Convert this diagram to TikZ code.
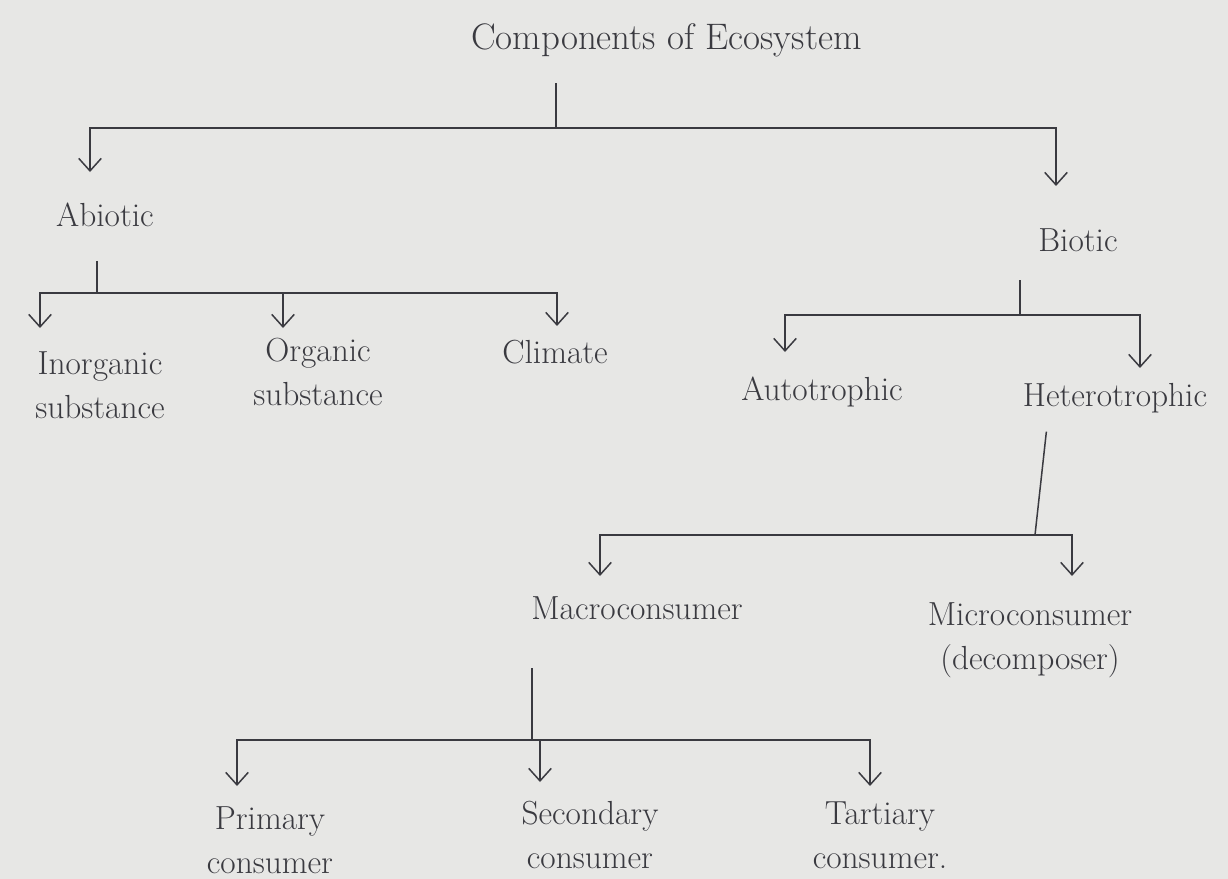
\documentclass[tikz,border=0pt]{standalone}
\usetikzlibrary{positioning, arrows.meta}
\definecolor{paper}{RGB}{231,231,229}
\definecolor{pencil}{RGB}{58,58,64}

\begin{document}
\begin{tikzpicture}[x=0.02cm, y=-0.02cm, >={Straight Barb[length=2.5mm, width=4.5mm]},
		word/.style={text=pencil, align=center, inner sep=2pt,
			font=\fontsize{19}{25}\selectfont},
		branch/.style={draw=pencil, line width=0.3mm}]

		\useasboundingbox [fill=paper] (0,0) rectangle (1228,879);

		% Ecosystem
		\node [word, font=\fontsize{21}{25}\selectfont] (eco) at (672,40) {
			Components of Ecosystem
		};
		\coordinate (eco-bar) at (556,128);
		\coordinate (abiotic-in) at (90,172);
		\coordinate (biotic-in) at (1056,186);

		% Abiotic
		\node [word] (abiotic) at (105,215) {Abiotic};
		\coordinate (abiotic-bar) at (97,293);
		\node [word] (inorg) at (100,385) {Inorganic\\substance};
		\node [word] (org) at (318,372) {Organic\\substance};
		\node [word] (climate) at (555,352) {Climate};
		\coordinate (inorg-in) at (40,328);
		\coordinate (org-in) at (283,328);
		\coordinate (climate-in) at (557,326);

		% Biotic
		\node [word] (biotic) at (1078,240) {Biotic};
		\coordinate (biotic-bar) at (1020,315);
		\node [word] (auto) at (822,392) {Autotrophic};
		\node [word] (hetero) at (1115,398) {Heterotrophic};
		\coordinate (auto-in) at (785,352);
		\coordinate (hetero-in) at (1140,368);

		% Heterotrophic
		\coordinate (hetero-bar) at (1035,535);
		\node [word] (macro) at (637,608) {Macroconsumer};
		\node [word] (micro) at (1030,640) {Microconsumer\\(decomposer)};
		\coordinate (macro-in) at (600,576);
		\coordinate (micro-in) at (1072,576);

		% Macroconsumer
		\coordinate (macro-bar) at (532,740);
		\node [word] (primary) at (270,840) {Primary\\consumer};
		\node [word] (secondary) at (590,835) {Secondary\\consumer};
		\node [word] (tertiary) at (880,835) {Tartiary\\consumer.};
		\coordinate (primary-in) at (237,786);
		\coordinate (secondary-in) at (540,782);
		\coordinate (tertiary-in) at (870,786);

		\draw [branch, shorten <=0.45cm] (eco.south -| eco-bar) -- (eco-bar);
		\draw [branch, shorten <=0.6cm] (abiotic.south -| abiotic-bar) -- (abiotic-bar);
		\draw [branch, shorten <=0.5cm] (biotic.south -| biotic-bar) -- (biotic-bar);
		\draw [branch, shorten <=0.3cm] ([xshift=-1.34cm]hetero.south) -- (hetero-bar);
		\draw [branch, shorten <=0.9cm] (macro.south -| macro-bar) -- (macro-bar);

		% Arrows
		\foreach \t in {abiotic, biotic}
			\draw [branch, ->] (eco-bar) -| (\t-in);
		\foreach \t in {inorg, org, climate}
			\draw [branch, ->] (abiotic-bar) -| (\t-in);
		\foreach \t in {auto, hetero}
			\draw [branch, ->] (biotic-bar) -| (\t-in);
		\foreach \t in {macro, micro}
			\draw [branch, ->] (hetero-bar) -| (\t-in);
		\foreach \t in {primary, secondary, tertiary}
			\draw [branch, ->] (macro-bar) -| (\t-in);

	\end{tikzpicture}
\end{document}
